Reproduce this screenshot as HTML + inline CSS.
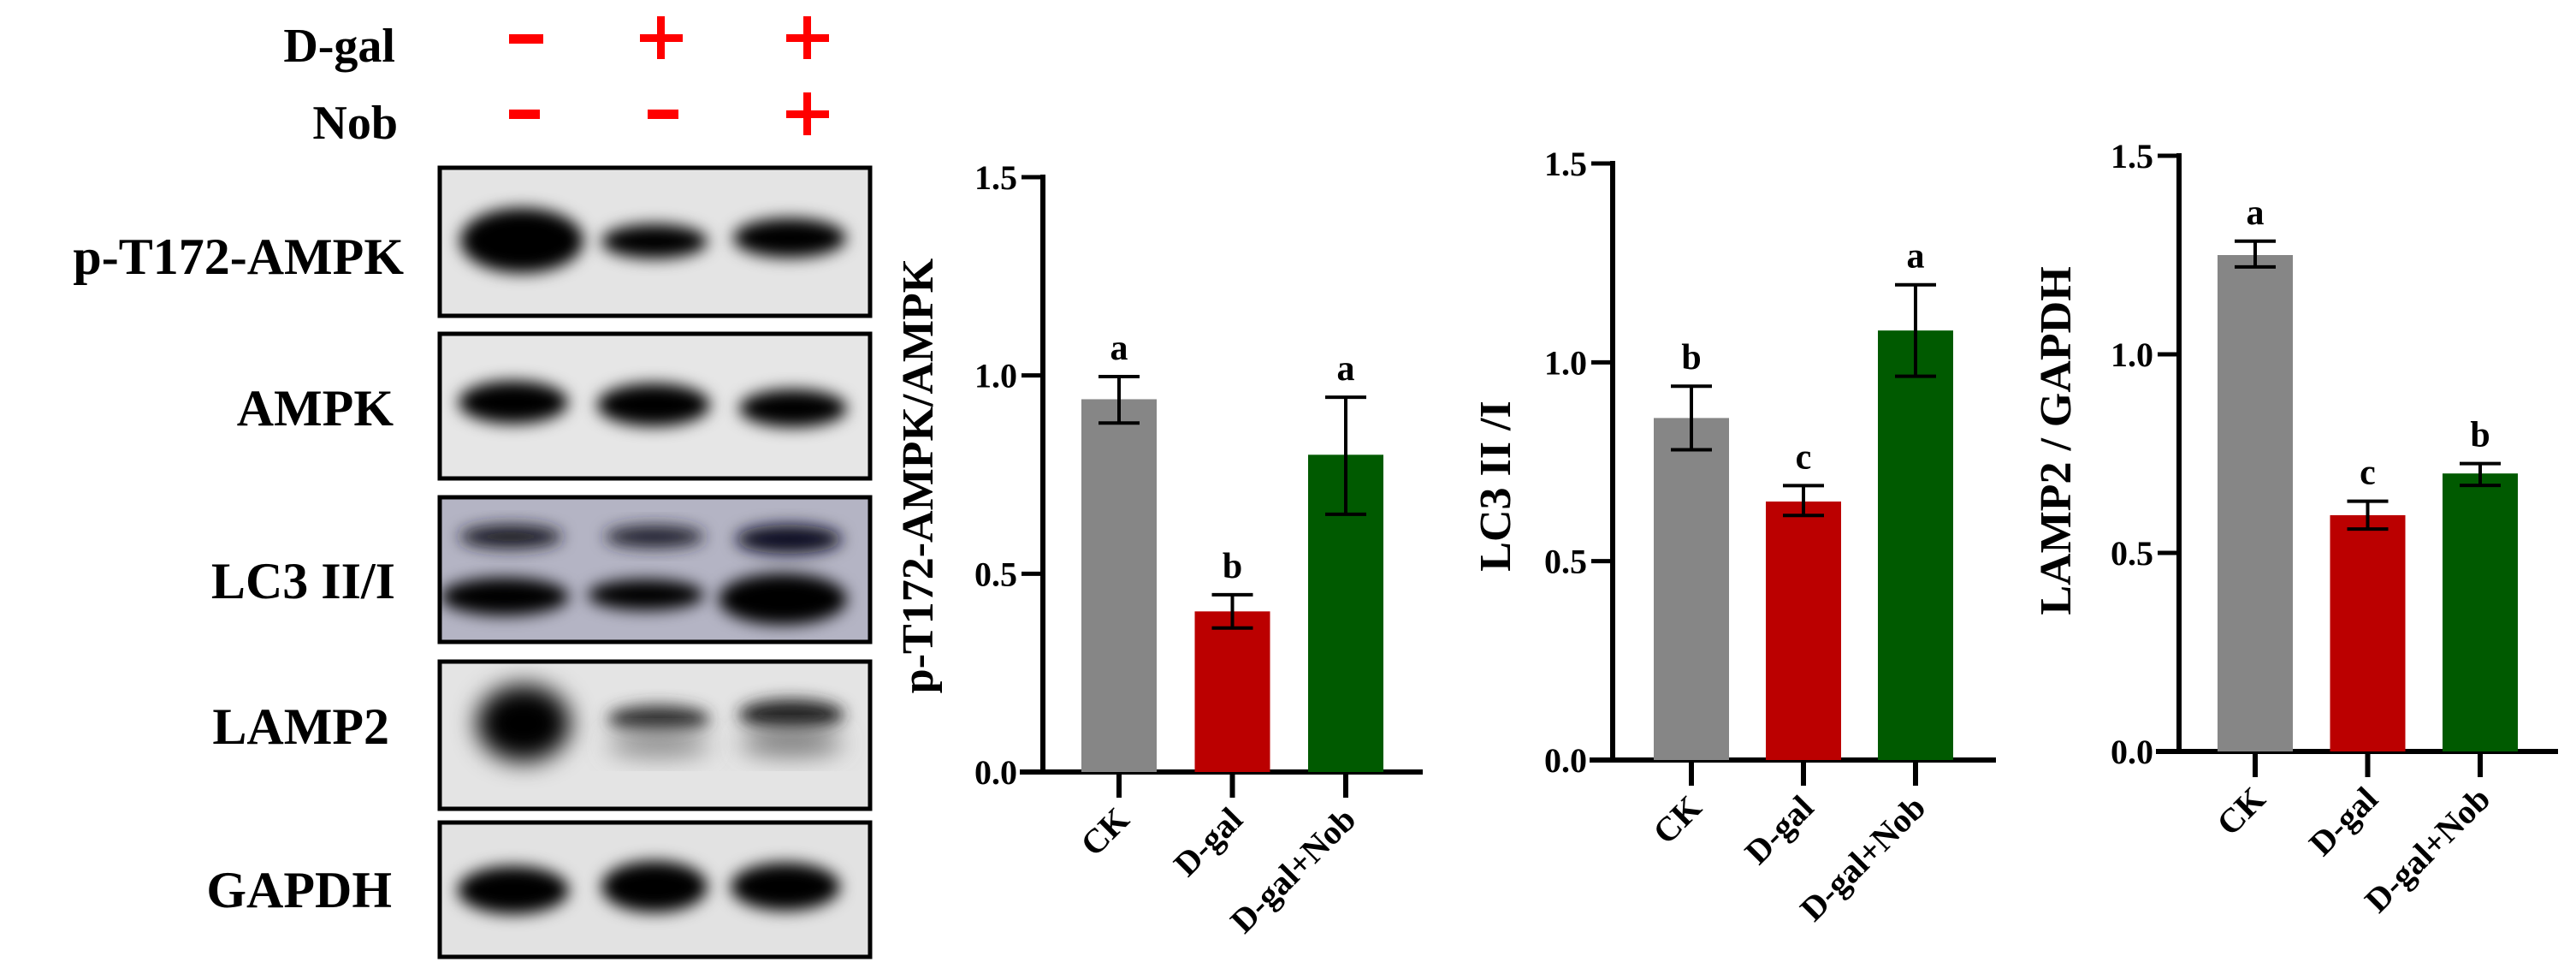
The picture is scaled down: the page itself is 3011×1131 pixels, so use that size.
<!DOCTYPE html>
<html><head><meta charset="utf-8"><style>
html,body{margin:0;padding:0;background:#fff;}
svg{display:block;font-family:"Liberation Serif",serif;font-weight:bold;}
</style></head><body>
<svg id="fig" width="3011" height="1131" viewBox="0 0 3011 1131" xmlns="http://www.w3.org/2000/svg">
<defs>
<filter id="blur" x="-30%" y="-60%" width="160%" height="220%"><feGaussianBlur stdDeviation="9"/></filter>
<filter id="blur2" x="-30%" y="-60%" width="160%" height="220%"><feGaussianBlur stdDeviation="14"/></filter>
<clipPath id="c1"><rect x="514" y="196" width="503" height="173"/></clipPath>
<clipPath id="c2"><rect x="514" y="390" width="503" height="169"/></clipPath>
<clipPath id="c3"><rect x="514" y="581" width="503" height="169"/></clipPath>
<clipPath id="c4"><rect x="514" y="773" width="503" height="172"/></clipPath>
<clipPath id="c5"><rect x="514" y="961" width="503" height="157"/></clipPath>
</defs>
<g>
<text x="462" y="72" font-size="56" text-anchor="end">D-gal</text>
<text x="465" y="162" font-size="56" text-anchor="end">Nob</text>
<rect x="595" y="40" width="40" height="11" fill="#ff0000"/>
<rect x="748" y="40" width="50" height="9" fill="#ff0000"/><rect x="768" y="19" width="9" height="50" fill="#ff0000"/>
<rect x="919" y="40" width="50" height="9" fill="#ff0000"/><rect x="939" y="19" width="9" height="50" fill="#ff0000"/>
<rect x="595" y="128" width="36" height="11" fill="#ff0000"/>
<rect x="757" y="128" width="36" height="11" fill="#ff0000"/>
<rect x="919" y="129" width="50" height="9" fill="#ff0000"/><rect x="939" y="108" width="9" height="50" fill="#ff0000"/>
</g>
<g font-size="60" text-anchor="end">
<text x="472" y="320">p-T172-AMPK</text>
<text x="460" y="497">AMPK</text>
<text x="462" y="699">LC3 II/I</text>
<text x="455" y="869">LAMP2</text>
<text x="458" y="1060">GAPDH</text>
</g>
<g>
<rect x="514" y="196" width="503" height="173" fill="#e4e4e4"/>
<g clip-path="url(#c1)" fill="#000">
<ellipse cx="610" cy="281" rx="72" ry="38" filter="url(#blur)"/>
<ellipse cx="765" cy="282" rx="62" ry="20" filter="url(#blur)"/>
<ellipse cx="923" cy="278" rx="66" ry="23" filter="url(#blur)"/>
</g>
<rect x="514" y="196" width="503" height="173" fill="none" stroke="#000" stroke-width="5"/>
</g>
<g>
<rect x="514" y="390" width="503" height="169" fill="#e6e6e6"/>
<g clip-path="url(#c2)" fill="#000">
<ellipse cx="600" cy="470" rx="64" ry="25" filter="url(#blur)"/>
<ellipse cx="764" cy="473" rx="66" ry="25" filter="url(#blur)"/>
<ellipse cx="927" cy="477" rx="63" ry="22" filter="url(#blur)"/>
</g>
<rect x="514" y="390" width="503" height="169" fill="none" stroke="#000" stroke-width="5"/>
</g>
<g>
<rect x="514" y="581" width="503" height="169" fill="#b4b4c4"/>
<g clip-path="url(#c3)" fill="#000">
<ellipse cx="597" cy="627" rx="60" ry="14" filter="url(#blur)" fill="#1a1a28"/>
<ellipse cx="765" cy="627" rx="58" ry="13" filter="url(#blur)" fill="#22222e"/>
<ellipse cx="922" cy="630" rx="62" ry="17" filter="url(#blur)" fill="#101020"/>
<ellipse cx="590" cy="697" rx="75" ry="22" filter="url(#blur)"/>
<ellipse cx="755" cy="695" rx="68" ry="18" filter="url(#blur)"/>
<ellipse cx="915" cy="700" rx="75" ry="30" filter="url(#blur)"/>
</g>
<rect x="514" y="581" width="503" height="169" fill="none" stroke="#000" stroke-width="5"/>
</g>
<g>
<rect x="514" y="773" width="503" height="172" fill="#e4e4e4"/>
<g clip-path="url(#c4)">
<ellipse cx="612" cy="845" rx="55" ry="45" filter="url(#blur2)" fill="#000"/>
<ellipse cx="770" cy="840" rx="60" ry="16" filter="url(#blur)" fill="#333"/>
<ellipse cx="770" cy="870" rx="60" ry="14" filter="url(#blur2)" fill="#888"/>
<ellipse cx="925" cy="835" rx="62" ry="18" filter="url(#blur)" fill="#222"/>
<ellipse cx="925" cy="868" rx="60" ry="15" filter="url(#blur2)" fill="#777"/>
</g>
<rect x="514" y="773" width="503" height="172" fill="none" stroke="#000" stroke-width="5"/>
</g>
<g>
<rect x="514" y="961" width="503" height="157" fill="#e2e2e2"/>
<g clip-path="url(#c5)" fill="#000">
<ellipse cx="600" cy="1040" rx="65" ry="28" filter="url(#blur)"/>
<ellipse cx="765" cy="1036" rx="62" ry="30" filter="url(#blur)"/>
<ellipse cx="918" cy="1036" rx="64" ry="28" filter="url(#blur)"/>
</g>
<rect x="514" y="961" width="503" height="157" fill="none" stroke="#000" stroke-width="5"/>
</g>
<g id="charts"></g>
</svg>
<script>
const categories = ["CK", "D-gal", "D-gal+Nob"];
const tickLabels = ["0.0", "0.5", "1.0", "1.5"];
const tickValues = [0, 0.5, 1.0, 1.5];
const ampkValues = [0.94, 0.405, 0.80];
const ampkErrHi = [0.997, 0.447, 0.945];
const ampkErrLo = [0.88, 0.363, 0.65];
const ampkLetters = ["a", "b", "a"];
const lc3Values = [0.86, 0.65, 1.08];
const lc3ErrHi = [0.94, 0.69, 1.195];
const lc3ErrLo = [0.78, 0.615, 0.965];
const lc3Letters = ["b", "c", "a"];
const lampValues = [1.25, 0.595, 0.70];
const lampErrHi = [1.285, 0.63, 0.725];
const lampErrLo = [1.22, 0.56, 0.67];
const lampLetters = ["a", "c", "b"];
const barColors = ["#868686", "#bb0000", "#005a00"];

const NS = "http://www.w3.org/2000/svg";
const root = document.getElementById("charts");
function mk(tag, attrs, parent) {
  const e = document.createElementNS(NS, tag);
  for (const k in attrs) e.setAttribute(k, attrs[k]);
  parent.appendChild(e);
  return e;
}
function chart(cfg) {
  const g = mk("g", {}, root);
  
  
  const y = v => cfg.y0 - (v / 1.5) * (cfg.y0 - cfg.y15);
  // axes
  const ax = mk("line", {x1: cfg.ax, y1: y(1.5) - 3, x2: cfg.ax, y2: cfg.y0 + 3, stroke: "#000", "stroke-width": 6}, g);
  
  
  const bx = mk("line", {x1: cfg.ax - 27, y1: cfg.y0, x2: cfg.xEnd, y2: cfg.y0, stroke: "#000", "stroke-width": 6}, g);
  
  
  tickValues.forEach((v, i) => {
    if (i > 0) {
      const t = mk("line", {x1: cfg.ax - 25, y1: y(v), x2: cfg.ax, y2: y(v), stroke: "#000", "stroke-width": 5}, g);
      
      
    }
    const tl = mk("text", {x: cfg.ax - 30, y: y(v) + 14, "font-size": 40, "text-anchor": "end"}, g);
    tl.textContent = tickLabels[i];
    
    
  });
  const yt = mk("text", {x: 0, y: 0, "font-size": 52, "text-anchor": "middle", transform: `translate(${cfg.titleX},${cfg.titleY}) rotate(-90)`}, g);
  yt.textContent = cfg.title;
  
  
  categories.forEach((c, i) => {
    const cx = cfg.x0 + i * cfg.step;
    const bar = mk("rect", {x: cx - cfg.bw / 2, y: y(cfg.vals[i]), width: cfg.bw, height: cfg.y0 - y(cfg.vals[i]), fill: barColors[i]}, g);
    
    
    const ev = mk("line", {x1: cx, y1: y(cfg.hi[i]), x2: cx, y2: y(cfg.lo[i]), stroke: "#000", "stroke-width": 4}, g);
    
    
    [cfg.hi[i], cfg.lo[i]].forEach(v => {
      const cap = mk("line", {x1: cx - 24, y1: y(v), x2: cx + 24, y2: y(v), stroke: "#000", "stroke-width": 4}, g);
      
      
    });
    const lt = mk("text", {x: cx, y: y(cfg.hi[i]) - 20, "font-size": 42, "text-anchor": "middle"}, g);
    lt.textContent = cfg.letters[i];
    
    
    const xt = mk("line", {x1: cx, y1: cfg.y0, x2: cx, y2: cfg.y0 + 30, stroke: "#000", "stroke-width": 6}, g);
    
    
    const xl = mk("text", {x: 0, y: 0, "font-size": 40, "text-anchor": "end", transform: `translate(${cx + 14},${cfg.y0 + 58}) rotate(-45)`}, g);
    xl.textContent = c;
    
    
  });
}
chart({name: "chart-p-ampk", ax: 1219, y0: 902, y15: 207, xEnd: 1663, x0: 1308, step: 132.5, bw: 88,
  vals: ampkValues, hi: ampkErrHi, lo: ampkErrLo, letters: ampkLetters, title: "p-T172-AMPK/AMPK", titleX: 1090, titleY: 556});
chart({name: "chart-lc3", ax: 1885, y0: 888, y15: 191, xEnd: 2333, x0: 1977, step: 131, bw: 88,
  vals: lc3Values, hi: lc3ErrHi, lo: lc3ErrLo, letters: lc3Letters, title: "LC3 II /I", titleX: 1765, titleY: 568});
chart({name: "chart-lamp2", ax: 2547, y0: 878, y15: 182, xEnd: 2990, x0: 2636, step: 131.5, bw: 88,
  vals: lampValues, hi: lampErrHi, lo: lampErrLo, letters: lampLetters, title: "LAMP2 / GAPDH", titleX: 2420, titleY: 515});
</script>
</body></html>
